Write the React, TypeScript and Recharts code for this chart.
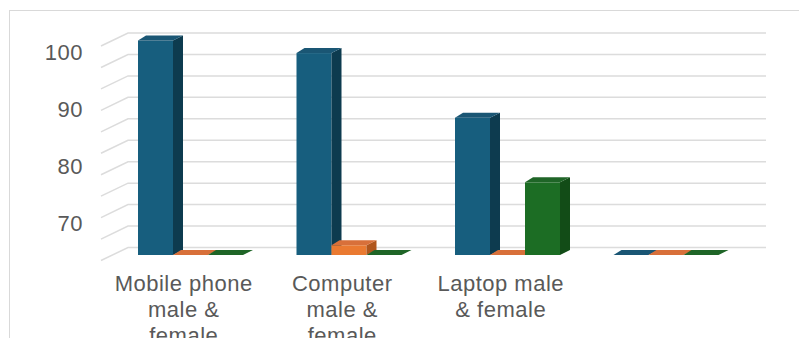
import { Bar, BarChart, CartesianGrid, XAxis, YAxis } from "recharts"

// category labels as they wrap in the picture
const categoryLines = [
    ["Mobile phone", "male &", "female"],
    ["Computer", "male &", "female"],
    ["Laptop male", "& female"],
    [""],
]
const categories = categoryLines.map(l => l.join(" ").trim())

const series1 = [101, 98.8, 87.5, 0]
const series2 = [0, 65.2, 0, 0]
const series3 = [0, 0, 76.2, 0]

const yTicks = [70, 80, 90, 100]
const gridTicks = [0, 1, 2, 3, 4, 5, 6, 7, 8, 9, 10]

const Y_MIN = 63.5
const Y_MAX = 102.57
const GRID_MAX = 10.42

const CHART_W = 799
const CHART_H = 338
const MARGIN = { top: 37, right: 64, bottom: 0, left: 0 }
const X_AXIS_H = 77.5

// values under the axis floor sit flat on the floor
const data = categories.map((name, i) => ({
    name,
    s1: Math.max(series1[i], Y_MIN),
    s2: Math.max(series2[i], Y_MIN),
    s3: Math.max(series3[i], Y_MIN),
}))

// back wall rows, evenly spread over the plot height
const plotTop = MARGIN.top
const plotBottom = CHART_H - MARGIN.bottom - X_AXIS_H
const gridRows = gridTicks.map(t => plotBottom - (t / GRID_MAX) * (plotBottom - plotTop))

const textColor = "#595959"
const font = "'Liberation Sans', Arial, sans-serif"

const makeShape = (front: string, side: string, top: string) => (props: any) => {
    const { x, y, width, height } = props
    const X = x + 10
    const Y = y - 5.5
    const dx = 10
    const dy = 5
    const h = Math.max(height || 0, 0)
    return <g>
        {h > 0 && <rect x={X} y={Y} width={width} height={h} fill={front} />}
        <polygon points={`${X + width},${Y} ${X + width + dx},${Y - dy} ${X + width + dx},${Y + h - dy} ${X + width},${Y + h}`} fill={side} />
        <polygon points={`${X},${Y} ${X + dx - 2},${Y - dy} ${X + width + dx},${Y - dy} ${X + width},${Y}`} fill={top} />
    </g>
}

// back-wall grid row: slanted side wall piece, then along the back wall
const gridLine = (props: any) => {
    const { x1, y1, x2, index } = props
    const left = Math.min(x1, x2)
    const right = Math.max(x1, x2)
    return <path key={`g${index}`} d={`M${left},${y1}L${left + 27},${y1 - 13}L${right + 31},${y1 - 13}`}
        stroke="#dcdcdc" strokeWidth={1.5} fill="none" />
}

const CategoryTick = (props: any) => {
    const { x, y, index } = props
    const lines = categoryLines[index] || []
    return <text x={x + 3.5} y={y} textAnchor="middle" fontSize={22} fill={textColor}
        fontFamily={font} letterSpacing={0.5}>
        {lines.map((l, i) => <tspan key={i} x={x + 3.5} dy={i === 0 ? 16 : 26}>{l}</tspan>)}
    </text>
}

const App = () => {
    return <div style={{ position: "absolute", left: 0, top: 0, width: CHART_W, height: CHART_H, overflow: "hidden", background: "#fff" }}>
        <div style={{ position: "absolute", left: 9, top: 10, width: 900, height: 400, border: "1px solid #d9d9d9" }} />
        <div style={{ position: "absolute", left: 0, top: 0 }}>
            <BarChart width={CHART_W} height={CHART_H} data={data} barGap={0} barSize={35} margin={MARGIN}>
                <CartesianGrid vertical={false} horizontal={gridLine} horizontalPoints={gridRows} />
                <XAxis dataKey="name" interval={0} axisLine={false} tickLine={false} tickSize={0}
                    tickMargin={14} height={X_AXIS_H} tick={CategoryTick} />
                <YAxis width={101} domain={[Y_MIN, Y_MAX]} ticks={yTicks}
                    axisLine={false} tickLine={false} tickSize={0} tickMargin={18}
                    tick={{ fontSize: 22, fill: textColor, fontFamily: font, letterSpacing: 0.5 }} />
                <Bar dataKey="s1" fill="#175e7e" isAnimationActive={false}
                    shape={makeShape("#175e7e", "#0d3b4f", "#1a5674")} />
                <Bar dataKey="s2" fill="#ea7a31" isAnimationActive={false}
                    shape={makeShape("#ea7a31", "#b0561d", "#d8703a")} />
                <Bar dataKey="s3" fill="#1c6d24" isAnimationActive={false}
                    shape={makeShape("#1c6d24", "#124c17", "#1f6527")} />
            </BarChart>
        </div>
    </div>
}

export default App
